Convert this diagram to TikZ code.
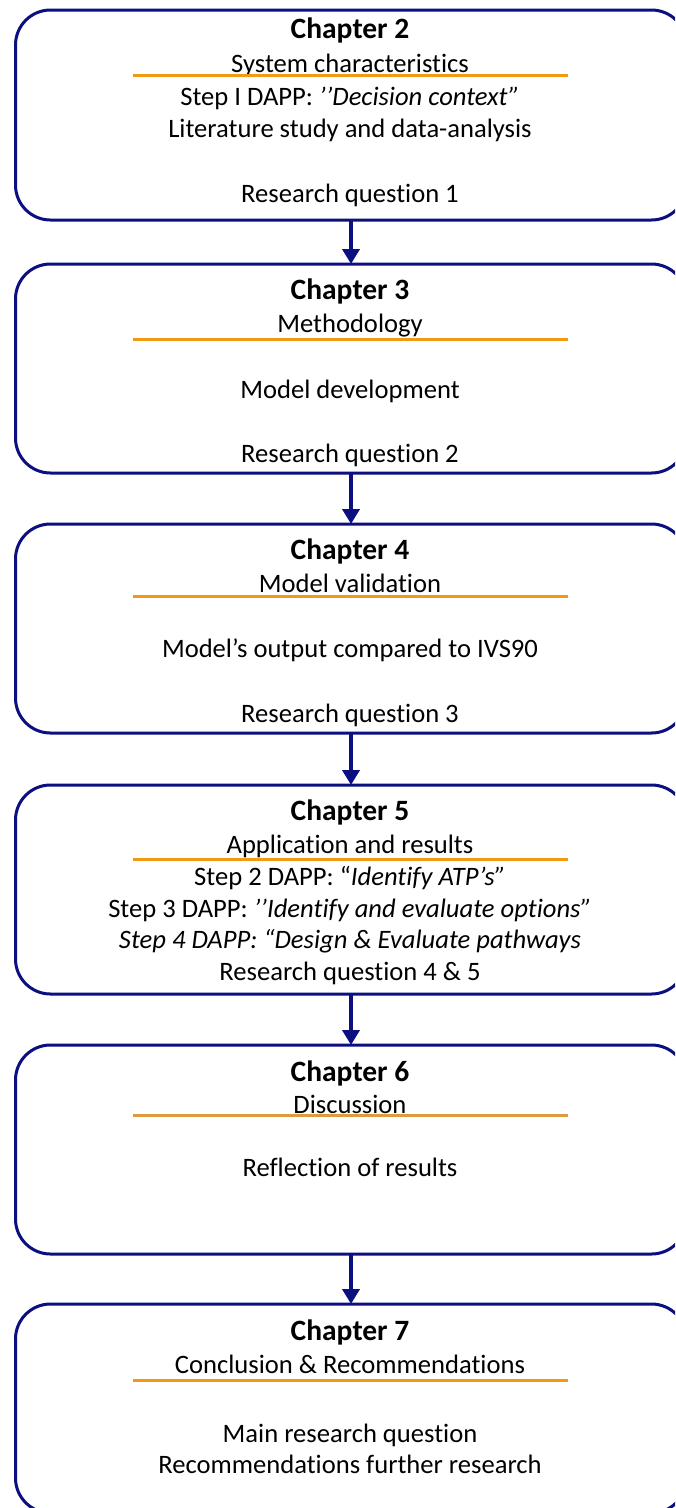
\documentclass[tikz,border=0pt]{standalone}
\usepackage{fontspec}
\setmainfont{Carlito}[Ligatures={NoCommon}]
\usetikzlibrary{arrows.meta}
\definecolor{navy}{HTML}{0B0F80}
\definecolor{orangeline}{HTML}{F39A12}
\definecolor{tanline}{HTML}{DE9A3C}
\tikzset{
  chbox/.style={draw=navy, line width=3pt, rounded corners=35pt, minimum width=671pt, minimum height=209pt, anchor=north, inner sep=0pt, outer sep=0pt},
  txt/.style={anchor=base, inner sep=0pt, font=\fontsize{26.6pt}{31pt}\selectfont},
  ttl/.style={txt, font=\fontsize{29.5pt}{34pt}\selectfont\bfseries},
  rule/.style={draw=orangeline, line width=3pt},
  flow/.style={draw=navy, line width=4.5pt, -{Triangle[length=15pt,width=17pt]}, shorten >=0pt}
}
\begin{document}
\begin{tikzpicture}[x=1pt,y=1pt]
\useasboundingbox (0,0) rectangle (675,-1508);
\clip (0,0) rectangle (675,-1508);
% boxes
\node[chbox, minimum height=210pt] (b1) at (351,-10) {};
\node[chbox] (b2) at (351,-264) {};
\node[chbox] (b3) at (351,-524) {};
\node[chbox] (b4) at (351,-785) {};
\node[chbox] (b5) at (351,-1045) {};
\node[chbox] (b6) at (351,-1304) {};
% arrows
\draw[flow] (b1.south) -- (b2.north);
\draw[flow] (b2.south) -- (b3.north);
\draw[flow] (b3.south) -- (b4.north);
\draw[flow] (b4.south) -- (b5.north);
\draw[flow] (b5.south) -- (b6.north);
% box 1
\node[ttl] (t1) at (350,-38) {Chapter 2};
\node[txt] (s1) at (350,-72) {System characteristics};
\coordinate (l1a) at (133,-75); \coordinate (l1b) at (568,-75);
\draw[rule] (l1a) -- (l1b);
\node[txt] (a1) at (350,-105) {Step I DAPP: {\itshape ’’Decision context”}};
\node[txt] (c1) at (350,-137) {Literature study and data-analysis};
\node[txt] (r1) at (350,-202) {Research question 1};
% box 2
\node[ttl] (t2) at (350,-299) {Chapter 3};
\node[txt] (s2) at (350,-332) {Methodology};
\coordinate (l2a) at (133,-339); \coordinate (l2b) at (568,-339);
\draw[rule] (l2a) -- (l2b);
\node[txt] (a2) at (350,-398) {Model development};
\node[txt] (r2) at (350,-462) {Research question 2};
% box 3
\node[ttl] (t3) at (350,-559) {Chapter 4};
\node[txt] (s3) at (350,-592) {Model validation};
\coordinate (l3a) at (133,-596); \coordinate (l3b) at (568,-596);
\draw[rule] (l3a) -- (l3b);
\node[txt] (a3) at (350,-657) {Model’s output compared to IVS90};
\node[txt] (r3) at (350,-722) {Research question 3};
% box 4
\node[ttl] (t4) at (350,-820) {Chapter 5};
\node[txt] (s4) at (350,-853) {Application and results};
\coordinate (l4a) at (133,-859); \coordinate (l4b) at (568,-859);
\draw[rule] (l4a) -- (l4b);
\node[txt] (a4) at (350,-885) {Step 2 DAPP: “\textit{Identify ATP’s”}};
\node[txt] (b4t) at (350,-917) {Step 3 DAPP: {\itshape ’’Identify and evaluate options”}};
\node[txt] (c4) at (350,-948) {\itshape Step 4 DAPP: “Design \& Evaluate pathways};
\node[txt] (r4) at (350,-980) {Research question 4 \& 5};
% box 5
\node[ttl] (t5) at (350,-1081) {Chapter 6};
\node[txt] (s5) at (350,-1113) {Discussion};
\coordinate (l5a) at (133,-1115); \coordinate (l5b) at (568,-1115);
\draw[rule, draw=tanline] (l5a) -- (l5b);
\node[txt] (a5) at (350,-1176) {Reflection of results};
% box 6
\node[ttl] (t6) at (350,-1340) {Chapter 7};
\node[txt] (s6) at (350,-1373) {Conclusion \& Recommendations};
\coordinate (l6a) at (133,-1380); \coordinate (l6b) at (568,-1380);
\draw[rule] (l6a) -- (l6b);
\node[txt] (a6) at (350,-1442) {Main research question};
\node[txt] (r6) at (350,-1473) {Recommendations further research};
\end{tikzpicture}
\end{document}
